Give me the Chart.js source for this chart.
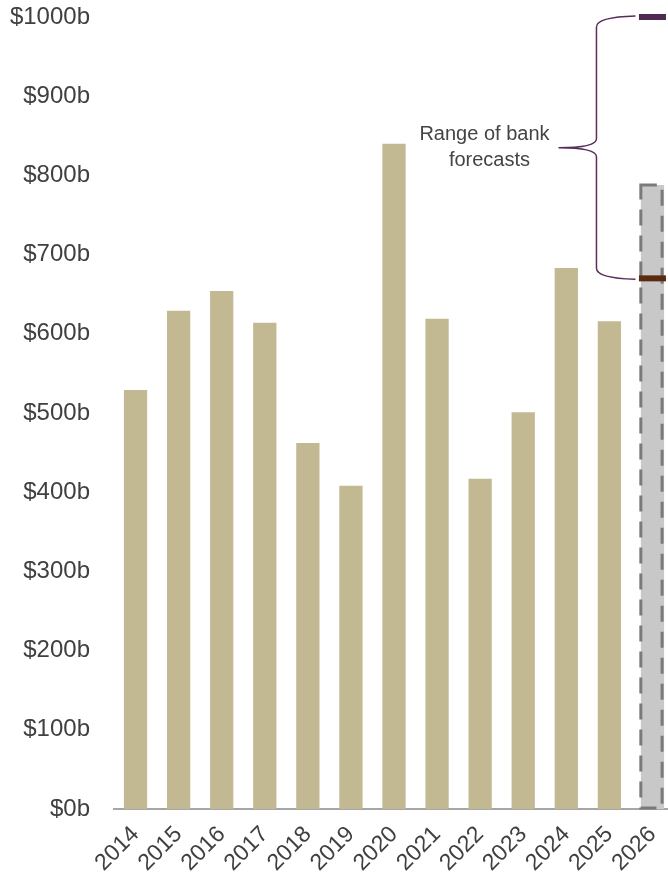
<!DOCTYPE html>
<html>
<head>
<meta charset="utf-8">
<script src="https://cdn.jsdelivr.net/npm/chart.js@4.4.1/dist/chart.umd.min.js"></script>
<style>
  html, body { margin: 0; padding: 0; background: #fff; overflow: hidden; }
  #wrap { width: 674px; height: 876px; position: relative; }
</style>
</head>
<body>
<div id="wrap"><canvas id="issuance"></canvas></div>
<script>
const years = ['2014', '2015', '2016', '2017', '2018', '2019', '2020', '2021', '2022', '2023', '2024', '2025', '2026'];
const issuance = [529, 629, 654, 614, 462, 408, 840, 619, 417, 501, 683, 616, 788];
const forecastHigh = 1000;
const forecastLow = 670;
const braceText = ['Range of bank', 'forecasts'];

const last = years.length - 1;
const tan = '#c2b993';
const lightGrey = '#c8c8c8';
const textColor = '#404040';
const fontFamily = '"Liberation Sans", Arial, sans-serif';

// dashed outline round the 2026 estimate bar
const dashedBar = {
    id: 'dashedBar',
    afterDatasetDraw(chart, args) {
        if (args.index !== 0) return;
        const bar = chart.getDatasetMeta(0).data[last];
        const ctx = chart.ctx;
        const w = bar.width;
        ctx.save();
        ctx.setLineDash([16, 10]);
        ctx.lineWidth = 3;
        ctx.strokeStyle = '#7a7a7a';
        ctx.strokeRect(bar.x - w / 2, bar.y, w - 2, bar.base - bar.y - 1);
        ctx.restore();
    }
};

// curly brace and label for the forecast range
const forecastBrace = {
    id: 'forecastBrace',
    afterDatasetsDraw(chart) {
        const ctx = chart.ctx;
        const xs = chart.scales.x, ys = chart.scales.y;
        const c = xs.getPixelForValue(last);
        const y1 = ys.getPixelForValue(forecastHigh);
        const y2 = ys.getPixelForValue(forecastLow);
        const ym = (y1 + y2) / 2;
        const xEnd = c - 17, xV = c - 56, xTip = c - 94;
        ctx.save();
        ctx.strokeStyle = '#5a2d5c';
        ctx.lineWidth = 1.5;
        ctx.beginPath();
        ctx.moveTo(xEnd, y1 - 1);
        ctx.quadraticCurveTo(xV, y1, xV, y1 + 10);
        ctx.lineTo(xV, ym - 9);
        ctx.quadraticCurveTo(xV, ym, xTip, ym);
        ctx.quadraticCurveTo(xV, ym, xV, ym + 9);
        ctx.lineTo(xV, y2 - 10);
        ctx.quadraticCurveTo(xV, y2, xEnd, y2 + 1);
        ctx.stroke();

        ctx.fillStyle = '#444';
        ctx.font = '20px ' + fontFamily;
        ctx.textAlign = 'center';
        ctx.textBaseline = 'middle';
        ctx.fillText(braceText[0], c - 168, ym - 13);
        ctx.fillText(braceText[1], c - 163, ym + 13);
        ctx.restore();
    }
};

new Chart('issuance', {
    type: 'bar',
    data: {
        labels: years,
        datasets: [{
            data: issuance,
            backgroundColor: years.map((y, i) => i === last ? lightGrey : tan),
            barPercentage: 0.54,
            categoryPercentage: 1,
            order: 2
        }, {
            type: 'line',
            data: years.map((y, i) => i === last ? forecastHigh : null),
            showLine: false,
            clip: false,
            pointStyle: 'line',
            pointRadius: 13.5,
            pointBorderWidth: 6,
            pointBorderColor: '#4f2a52',
            order: 0
        }, {
            type: 'line',
            data: years.map((y, i) => i === last ? forecastLow : null),
            showLine: false,
            clip: false,
            pointStyle: 'line',
            pointRadius: 13.5,
            pointBorderWidth: 6,
            pointBorderColor: '#5a2b0e',
            order: 0
        }]
    },
    options: {
        responsive: true,
        maintainAspectRatio: false,
        animation: false,
        layout: { autoPadding: false, padding: { top: 17, left: 8, right: 0, bottom: 0 } },
        plugins: { legend: { display: false }, tooltip: { enabled: false } },
        scales: {
            y: {
                min: 0,
                max: 1000,
                ticks: {
                    stepSize: 100,
                    padding: 16,
                    color: textColor,
                    font: { family: fontFamily, size: 24 },
                    callback: v => '$' + v + 'b'
                },
                grid: { display: false },
                border: { display: false },
                afterFit(scale) {
                    scale.width = 106;
                    scale.paddingTop = 0;
                    scale.paddingBottom = 0;
                }
            },
            x: {
                grid: { display: false },
                border: { display: true, color: '#a6a6a6', width: 2 },
                ticks: {
                    autoSkip: false,
                    minRotation: 45,
                    maxRotation: 45,
                    padding: 4,
                    color: textColor,
                    font: { family: fontFamily, size: 23 }
                },
                afterFit(scale) {
                    scale.height = 67;
                    scale.paddingLeft = 0;
                    scale.paddingRight = 0;
                }
            }
        }
    },
    plugins: [dashedBar, forecastBrace]
});
</script>
</body>
</html>
